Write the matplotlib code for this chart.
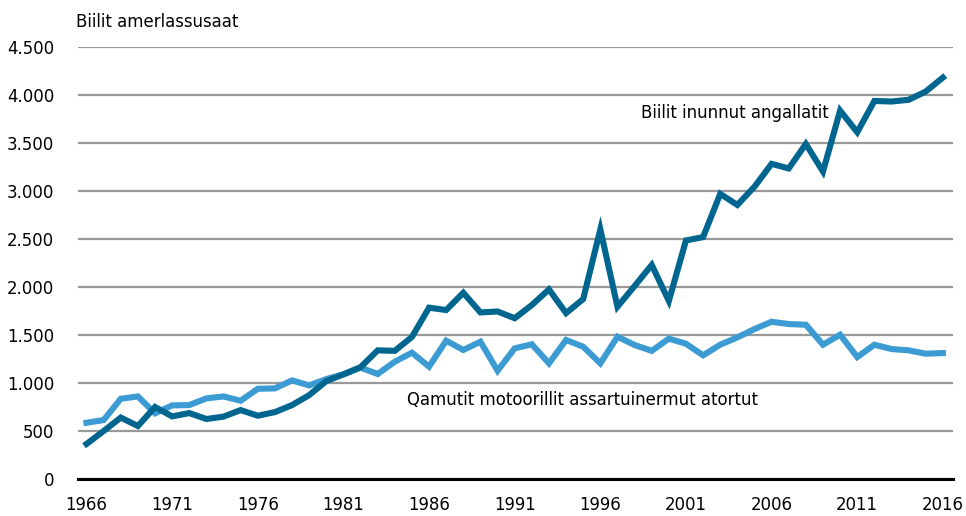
import matplotlib.pyplot as plt
from matplotlib import font_manager

years = list(range(1966, 2017))

# Biilit inunnut angallatit
biilit = [365, 500, 640, 552, 750, 652, 687, 625, 650, 718, 659, 697, 770, 874, 1020,
          1090, 1165, 1340, 1335, 1480, 1785, 1760, 1940, 1735, 1745, 1675, 1812, 1975,
          1728, 1875, 2600, 1795, 2010, 2230, 1855, 2485, 2520, 2970, 2855, 3045, 3283,
          3235, 3490, 3203, 3838, 3612, 3938, 3932, 3950, 4036, 4182]

# Qamutit motoorillit assartuinermut atortut
qamutit = [586, 614, 836, 860, 684, 767, 770, 840, 860, 815, 940, 944, 1027, 975, 1041,
           1090, 1160, 1094, 1222, 1316, 1170, 1441, 1344, 1430, 1128, 1361, 1403, 1205,
           1448, 1378, 1205, 1482, 1396, 1335, 1462, 1409, 1288, 1399, 1475, 1562, 1638,
           1614, 1607, 1399, 1503, 1270, 1399, 1354, 1340, 1305, 1312]

yticks = [0, 500, 1000, 1500, 2000, 2500, 3000, 3500, 4000, 4500]
ytick_labels = ['0', '500', '1.000', '1.500', '2.000', '2.500', '3.000', '3.500', '4.000', '4.500']
xticks = list(range(1966, 2017, 5))

# kapeampi skriftti jos on, muuten Liberation Sans
fonts = font_manager.fontManager.ttflist
narrow = [f for f in fonts if ('Condensed' in f.name or 'Narrow' in f.name
                               or f.stretch in ('condensed', 'semi-condensed'))
          and f.weight in (400, 'normal', 'regular') and f.style == 'normal']
if narrow:
    fam, stretch, fs = narrow[0].name, narrow[0].stretch, 13.2
else:
    fam, stretch, fs = 'Liberation Sans', 'normal', 13.5
plt.rcParams['font.family'] = fam
plt.rcParams['font.stretch'] = stretch
plt.rcParams['font.size'] = fs

fig = plt.figure(figsize=(9.66, 5.16), dpi=100)
ax = fig.add_axes([0.0807, 0.0717, 0.906, 0.8372])

dark = '#006690'
light = '#3d9bd3'

ax.plot(years, qamutit, color=light, lw=4.4, solid_joinstyle='miter', zorder=3)
ax.plot(years, biilit, color=dark, lw=4.4, solid_joinstyle='miter', zorder=4)

ax.set_xlim(1965.5, 2016.6)
ax.set_ylim(0, 4500)
ax.set_yticks(yticks)
ax.set_yticklabels(ytick_labels)
ax.set_xticks(xticks)
ax.grid(axis='y', color='#999999', lw=1.6, zorder=1)
ax.set_axisbelow(True)
for s in ['top', 'right', 'left']:
    ax.spines[s].set_visible(False)
ax.spines['bottom'].set_linewidth(2.2)
ax.spines['bottom'].set_zorder(5)
ax.tick_params(axis='y', length=0, pad=17)
ax.tick_params(axis='x', length=0, pad=12)

ax.text(1998.4, 3810, 'Biilit inunnut angallatit', va='center', ha='left')
ax.text(1984.7, 820, 'Qamutit motoorillit assartuinermut atortut', va='center', ha='left')
fig.text(76 / 966, 1 - 22 / 516, 'Biilit amerlassusaat', va='center', ha='left')

fig.savefig('out.png', dpi=100)
